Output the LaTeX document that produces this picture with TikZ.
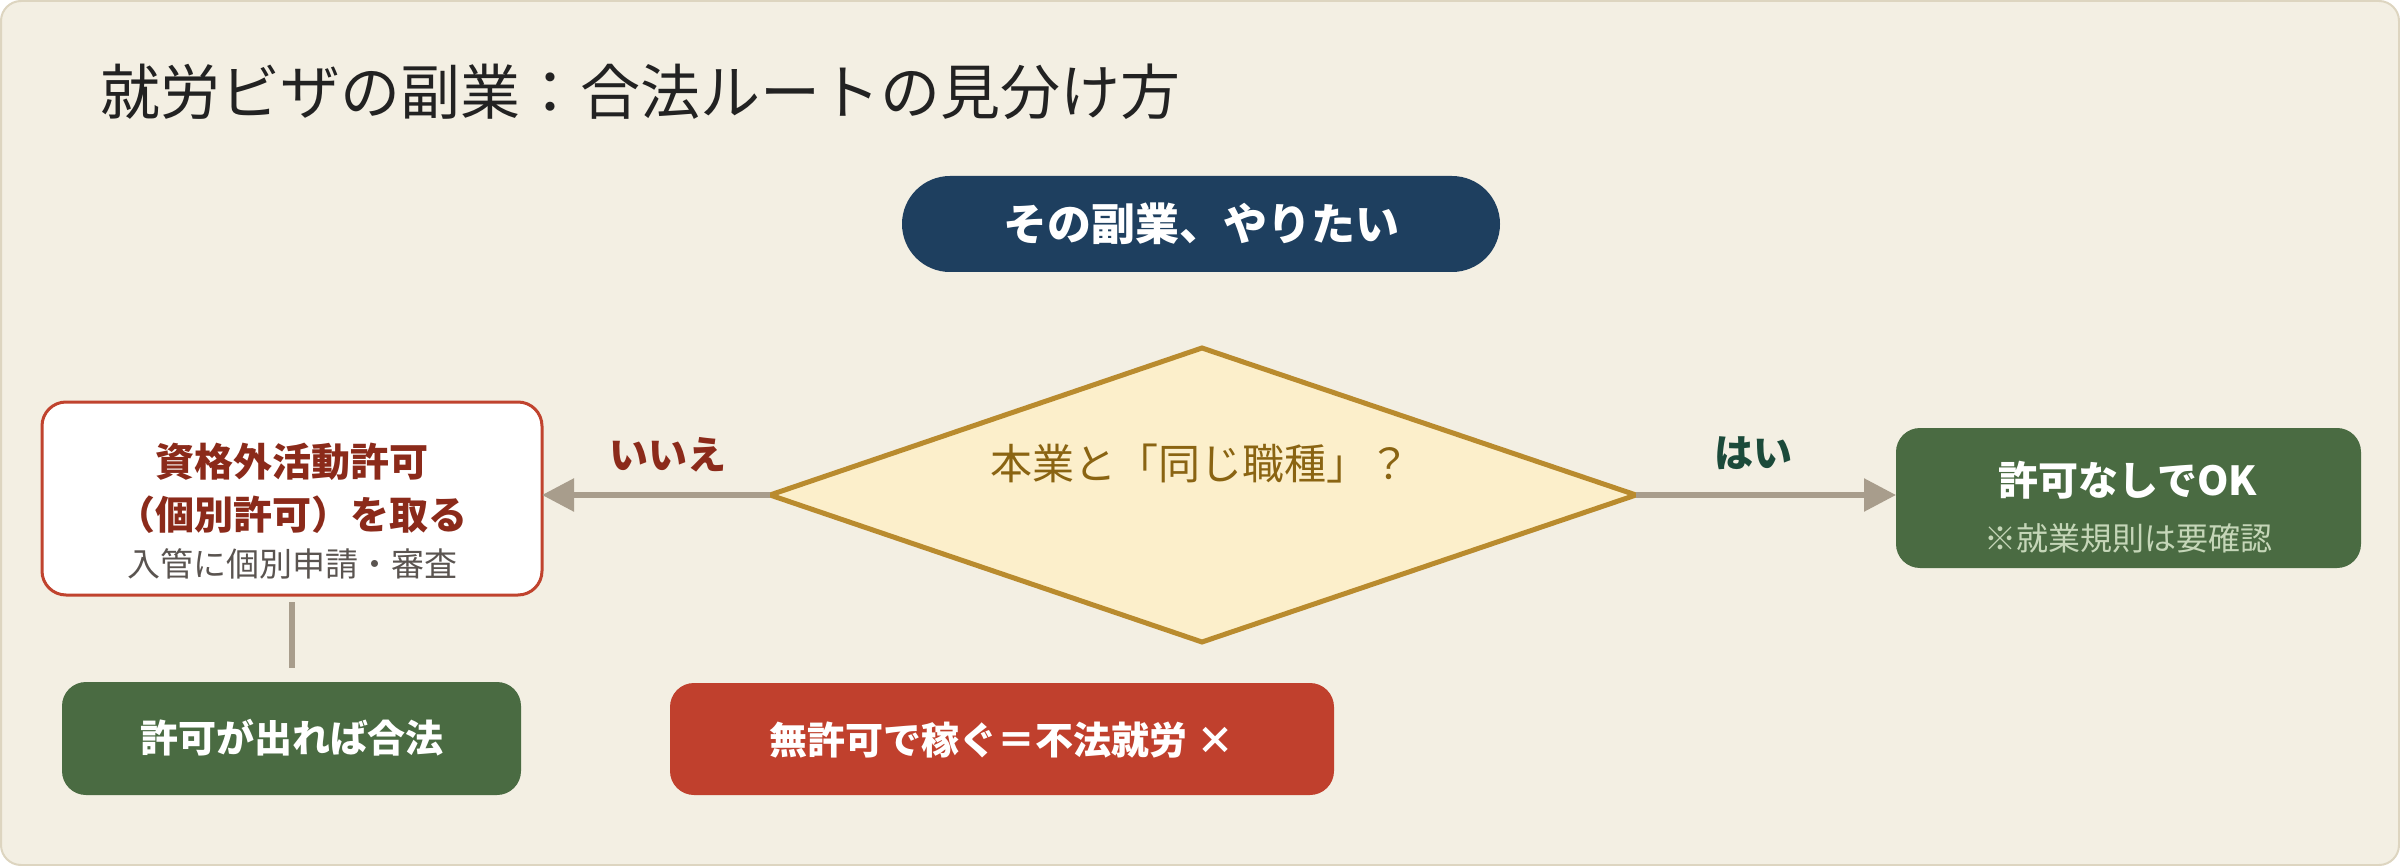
\documentclass[tikz,border=0pt]{standalone}
\usepackage{fontspec}
\setmainfont{Noto Sans CJK JP}
\usetikzlibrary{shapes.geometric,arrows.meta}
\definecolor{bgc}{HTML}{F3EFE3}
\definecolor{bgline}{HTML}{DDD5C0}
\definecolor{navy}{HTML}{1E3F5F}
\definecolor{dfill}{HTML}{FCEFCB}
\definecolor{dline}{HTML}{B98B2E}
\definecolor{dtext}{HTML}{8A6412}
\definecolor{redline}{HTML}{C0432E}
\definecolor{redtext}{HTML}{8B2A1A}
\definecolor{greytext}{HTML}{5A5450}
\definecolor{okgreen}{HTML}{4A6B42}
\definecolor{notegreen}{HTML}{C5D6B8}
\definecolor{badred}{HTML}{C0402D}
\definecolor{conn}{HTML}{A89D8C}
\definecolor{yesc}{HTML}{1B4A3A}
\definecolor{titlec}{HTML}{222222}
\tikzset{
  conline/.style={draw=conn, line width=2.8pt},
  conarrow/.style={conline, -{Triangle[length=16pt,width=16pt]}},
  lbl/.style={font=\bfseries\fontsize{19.5pt}{22pt}\selectfont},
}
\begin{document}
\begin{tikzpicture}[x=0.5pt,y=-0.5pt]
\useasboundingbox (0,0) rectangle (2400,866);
\draw[bgline, fill=bgc, line width=1pt, rounded corners=10pt] (1,1) rectangle (2399,865);
\node[anchor=west, text=titlec, font=\fontsize{30pt}{32pt}\selectfont, inner sep=0] (title) at (100,92) {就労ビザの副業：合法ルートの見分け方};
% start pill
\path[fill=navy, rounded corners=24pt] (902,176) rectangle (1500,272);
\node[text=white, font=\bfseries\fontsize{22pt}{24pt}\selectfont] (start) at (1201,224) {その副業、やりたい};
% diamond
\coordinate (dl) at (770,495);
\coordinate (dr) at (1636,495);
\draw[dline, fill=dfill, line width=2.5pt, line join=miter] (770,495) -- (1202,348) -- (1636,495) -- (1202,642) -- cycle;
\node[text=dtext, font=\fontsize{21pt}{23pt}\selectfont] (q) at (1200,464) {本業と「同じ職種」？};
% left box
\draw[redline, fill=white, line width=1.5pt, rounded corners=12pt] (42,402) rectangle (542,595);
\coordinate (lbr) at (542,495);
\node[text=redtext, font=\bfseries\fontsize{19.5pt}{26.5pt}\selectfont, align=center] (perm) at (292,488) {資格外活動許可\\（個別許可）を取る};
\node[text=greytext, font=\fontsize{16.5pt}{18pt}\selectfont] (permnote) at (292,564) {入管に個別申請・審査};
% bottom-left green
\path[fill=okgreen, rounded corners=12pt] (62,682) rectangle (521,795);
\node[text=white, font=\bfseries\fontsize{19pt}{21pt}\selectfont] (legal) at (292,738) {許可が出れば合法};
\coordinate (vtop) at (292,602);
\coordinate (vbot) at (292,668);
\draw[conline] (vtop) -- (vbot);
% right green box
\path[fill=okgreen, rounded corners=12pt] (1896,428) rectangle (2361,568);
\coordinate (rbl) at (1896,495);
\node[text=white, font=\bfseries\fontsize{20pt}{22pt}\selectfont] (ok) at (2128,480) {許可なしでOK};
\node[text=notegreen, font=\fontsize{16pt}{18pt}\selectfont] (oknote) at (2128,538) {※就業規則は要確認};
% bottom red box
\path[fill=badred, rounded corners=12pt] (670,683) rectangle (1334,795);
\node[text=white, font=\bfseries\fontsize{19pt}{21pt}\selectfont] (bad) at (1002,740) {無許可で稼ぐ＝不法就労 ×};
% arrows
\draw[conarrow] (dl) -- (lbr);
\draw[conarrow] (dr) -- (rbl);
\node[lbl, text=redtext] (no) at (668,455) {いいえ};
\node[lbl, text=yesc] (yes) at (1753,453) {はい};
\end{tikzpicture}
\end{document}
